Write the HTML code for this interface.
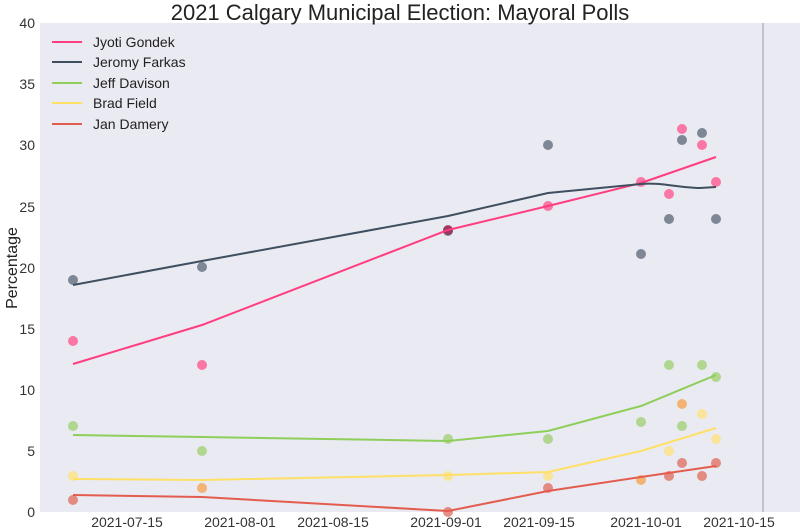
<!DOCTYPE html>
<html><head><style>
body{margin:0;background:#fff;}
svg{display:block;font-family:"Liberation Sans",sans-serif;}
</style></head><body>
<svg width="800" height="532" viewBox="0 0 800 532">
<rect x="40" y="23" width="760" height="489" fill="#eaeaf2"/>
<line x1="763" y1="23" x2="763" y2="512" stroke="#a8a8b8" stroke-width="1.2"/>
<text x="400" y="20" font-size="22" text-anchor="middle" fill="#222">2021 Calgary Municipal Election: Mayoral Polls</text>
<g font-size="14" fill="#333" text-anchor="end">
<text x="35" y="517">0</text><text x="35" y="456">5</text><text x="35" y="395">10</text><text x="35" y="334">15</text><text x="35" y="273">20</text><text x="35" y="212">25</text><text x="35" y="150">30</text><text x="35" y="89">35</text><text x="35" y="28">40</text>
</g>
<text transform="translate(17,268) rotate(-90)" font-size="16" text-anchor="middle" fill="#222">Percentage</text>
<g font-size="14" fill="#333" text-anchor="middle">
<text x="127" y="527">2021-07-15</text><text x="240" y="527">2021-08-01</text><text x="333" y="527">2021-08-15</text><text x="446" y="527">2021-09-01</text><text x="539" y="527">2021-09-15</text><text x="646" y="527">2021-10-01</text><text x="739" y="527">2021-10-15</text>
</g>
<g fill-opacity="0.75">
<g fill="#ff4f8b"><circle cx="73" cy="341" r="5"/><circle cx="202" cy="365" r="5"/><circle cx="548" cy="206" r="5"/><circle cx="641" cy="182" r="5"/><circle cx="669" cy="194" r="5"/><circle cx="682" cy="129" r="5"/><circle cx="702" cy="145" r="5"/><circle cx="716" cy="182" r="5"/></g>
<g fill="#5a6675"><circle cx="73" cy="280" r="5"/><circle cx="202" cy="267" r="5"/><circle cx="448" cy="231" r="5"/><circle cx="548" cy="145" r="5"/><circle cx="641" cy="254" r="5"/><circle cx="669" cy="219" r="5"/><circle cx="682" cy="140" r="5"/><circle cx="702" cy="133" r="5"/><circle cx="716" cy="219" r="5"/></g>
<circle cx="448" cy="230" r="5" fill="#a0204f"/>
<g fill="#9ccf6e"><circle cx="73" cy="426" r="5"/><circle cx="202" cy="451" r="5"/><circle cx="448" cy="439" r="5"/><circle cx="548" cy="439" r="5"/><circle cx="641" cy="422" r="5"/><circle cx="669" cy="365" r="5"/><circle cx="682" cy="426" r="5"/><circle cx="702" cy="365" r="5"/><circle cx="716" cy="377" r="5"/></g>
<g fill="#ffe27a"><circle cx="73" cy="476" r="5"/><circle cx="448" cy="476" r="5"/><circle cx="548" cy="476" r="5"/><circle cx="669" cy="451" r="5"/><circle cx="702" cy="414" r="5"/><circle cx="716" cy="439" r="5"/></g>
<g fill="#f5a04a"><circle cx="202" cy="488" r="5"/><circle cx="641" cy="480" r="5"/><circle cx="682" cy="404" r="5"/></g>
<g fill="#e06a5c"><circle cx="73" cy="500" r="5"/><circle cx="448" cy="512" r="5"/><circle cx="548" cy="488" r="5"/><circle cx="669" cy="476" r="5"/><circle cx="682" cy="463" r="5"/><circle cx="702" cy="476" r="5"/><circle cx="716" cy="463" r="5"/></g>
</g>
<g fill="none" stroke-width="2">
<polyline stroke="#ff3d7f" points="73,364 202,325 448,230 548,206 641,183 716,157"/>
<path stroke="#3f4f5f" d="M73,285 L202,261 L448,216 L548,193 L641,184 C660,182 680,188 700,188 L716,187"/>
<polyline stroke="#8fce5a" points="73,435 202,437 448,441 548,431 641,406 716,375"/>
<polyline stroke="#ffe066" points="73,479 202,480 448,475 548,472 641,451 716,428"/>
<polyline stroke="#e35d4f" points="73,495 202,497 448,511 548,491 641,477 716,466"/>
</g>
<rect x="41" y="24" width="150" height="114" fill="#eaeaf2"/>
<g stroke-width="2">
<line x1="52" y1="42" x2="82" y2="42" stroke="#ff3d7f"/>
<line x1="52" y1="62" x2="82" y2="62" stroke="#3f4f5f"/>
<line x1="52" y1="83" x2="82" y2="83" stroke="#8fce5a"/>
<line x1="52" y1="103" x2="82" y2="103" stroke="#ffe066"/>
<line x1="52" y1="124" x2="82" y2="124" stroke="#e35d4f"/>
</g>
<g font-size="14" fill="#222">
<text x="93" y="47">Jyoti Gondek</text><text x="93" y="67">Jeromy Farkas</text><text x="93" y="88">Jeff Davison</text><text x="93" y="108">Brad Field</text><text x="93" y="129">Jan Damery</text>
</g>
</svg>
</body></html>
